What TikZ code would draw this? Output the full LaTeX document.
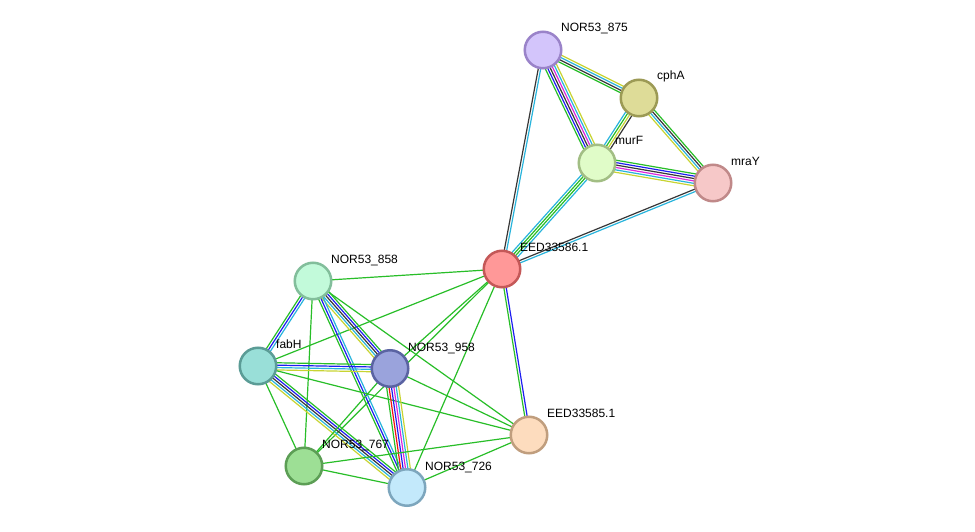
\documentclass[tikz,border=0pt]{standalone}
\usepackage{fontspec}
\setmainfont{Liberation Sans}
\usetikzlibrary{calc}
\pgfdeclarelayer{background}
\pgfsetlayers{background,main}
\definecolor{nb}{RGB}{40,190,40}
\definecolor{fu}{RGB}{240,20,20}
\definecolor{co}{RGB}{30,30,240}
\definecolor{cx}{RGB}{55,55,55}
\definecolor{ex}{RGB}{220,40,220}
\definecolor{db}{RGB}{40,180,220}
\definecolor{tm}{RGB}{200,212,50}
\tikzset{
  prot/.style={circle, minimum size=36.5pt, inner sep=0pt, line width=2.5pt},
  lbl/.style={anchor=base west, inner sep=0pt, font=\fontsize{12}{14}\selectfont, text=black},
  strand/.style={line width=1.2pt}
}
\newcommand\stredge[4]{%
  \foreach \c [count=\i] in {#4}{%
    \pgfmathsetmacro\off{(\i-(#3+1)/2)*2.4}%
    \draw[strand,draw=\c] ($(#1)!\off pt!90:(#2)$) -- ($(#2)!\off pt!-90:(#1)$);
  }}
\begin{document}
\begin{tikzpicture}[x=1pt,y=-1pt]
\useasboundingbox (0,0) rectangle (975,532);
% nodes
\node[prot, fill={rgb,255:red,211;green,197;blue,251}, draw={rgb,255:red,154;green,131;blue,201}] (n875) at (543,50) {};
\node[prot, fill={rgb,255:red,222;green,220;blue,152}, draw={rgb,255:red,156;green,154;blue,85}] (cphA) at (639,98) {};
\node[prot, fill={rgb,255:red,224;green,252;blue,200}, draw={rgb,255:red,162;green,190;blue,132}] (murF) at (597,163) {};
\node[prot, fill={rgb,255:red,246;green,200;blue,200}, draw={rgb,255:red,192;green,137;blue,137}] (mraY) at (713,183) {};
\node[prot, fill={rgb,255:red,255;green,152;blue,152}, draw={rgb,255:red,196;green,88;blue,88}] (e86) at (502,269) {};
\node[prot, fill={rgb,255:red,194;green,250;blue,218}, draw={rgb,255:red,130;green,190;blue,155}] (n858) at (313,281) {};
\node[prot, fill={rgb,255:red,153;green,223;blue,216}, draw={rgb,255:red,91;green,156;blue,150}] (fabH) at (258,366) {};
\node[prot, fill={rgb,255:red,154;green,163;blue,220}, draw={rgb,255:red,90;green,99;blue,162}] (n958) at (390,368.5) {};
\node[prot, fill={rgb,255:red,253;green,220;blue,190}, draw={rgb,255:red,192;green,158;blue,126}] (e85) at (529,435) {};
\node[prot, fill={rgb,255:red,157;green,223;blue,149}, draw={rgb,255:red,92;green,158;blue,85}] (n767) at (304,466) {};
\node[prot, fill={rgb,255:red,195;green,233;blue,251}, draw={rgb,255:red,125;green,166;blue,189}] (n726) at (407,487.5) {};
% edges
\begin{pgfonlayer}{background}
\fill[white] (0,0) rectangle (975,532);
\stredge{n875}{cphA}{4}{nb,cx,db,tm}
\stredge{n875}{murF}{6}{nb,co,cx,ex,db,tm}
\stredge{n875}{e86}{2}{cx,db}
\stredge{cphA}{murF}{4}{db,nb,tm,cx}
\stredge{cphA}{mraY}{4}{tm,db,cx,nb}
\stredge{murF}{mraY}{6}{tm,db,ex,cx,co,nb}
\stredge{murF}{e86}{4}{db,nb,nb,db}
\stredge{mraY}{e86}{2}{cx,db}
\stredge{e86}{e85}{2}{nb,co}
\stredge{e86}{n858}{1}{nb}
\stredge{e86}{fabH}{1}{nb}
\stredge{e86}{n958}{1}{nb}
\stredge{e86}{n767}{1}{nb}
\stredge{e86}{n726}{1}{nb}
\stredge{n858}{fabH}{3}{nb,co,db}
\stredge{n858}{n958}{5}{tm,db,cx,co,nb}
\stredge{n858}{n726}{3}{nb,co,db}
\stredge{n858}{n767}{1}{nb}
\stredge{n858}{e85}{1}{nb}
\stredge{fabH}{n958}{4}{tm,db,co,nb}
\stredge{fabH}{n726}{5}{tm,db,cx,co,nb}
\stredge{fabH}{n767}{1}{nb}
\stredge{fabH}{e85}{1}{nb}
\stredge{n958}{n726}{6}{nb,fu,co,ex,db,tm}
\stredge{n958}{e85}{1}{nb}
\stredge{n958}{n767}{1}{nb}
\stredge{n767}{n726}{1}{nb}
\stredge{n767}{e85}{1}{nb}
\stredge{n726}{e85}{1}{nb}
\end{pgfonlayer}
% labels
\node[lbl] (l875) at (561,32) {NOR53\_875};
\node[lbl] (lcphA) at (657,80) {cphA};
\node[lbl] (lmurF) at (615,145) {murF};
\node[lbl] (lmraY) at (731,165) {mraY};
\node[lbl] (l86) at (520,251) {EED33586.1};
\node[lbl] (l858) at (331,263) {NOR53\_858};
\node[lbl] (lfabH) at (276,348) {fabH};
\node[lbl] (l958) at (408,351) {NOR53\_958};
\node[lbl] (l85) at (547,417) {EED33585.1};
\node[lbl] (l767) at (322,448) {NOR53\_767};
\node[lbl] (l726) at (425,470) {NOR53\_726};
\end{tikzpicture}
\end{document}
